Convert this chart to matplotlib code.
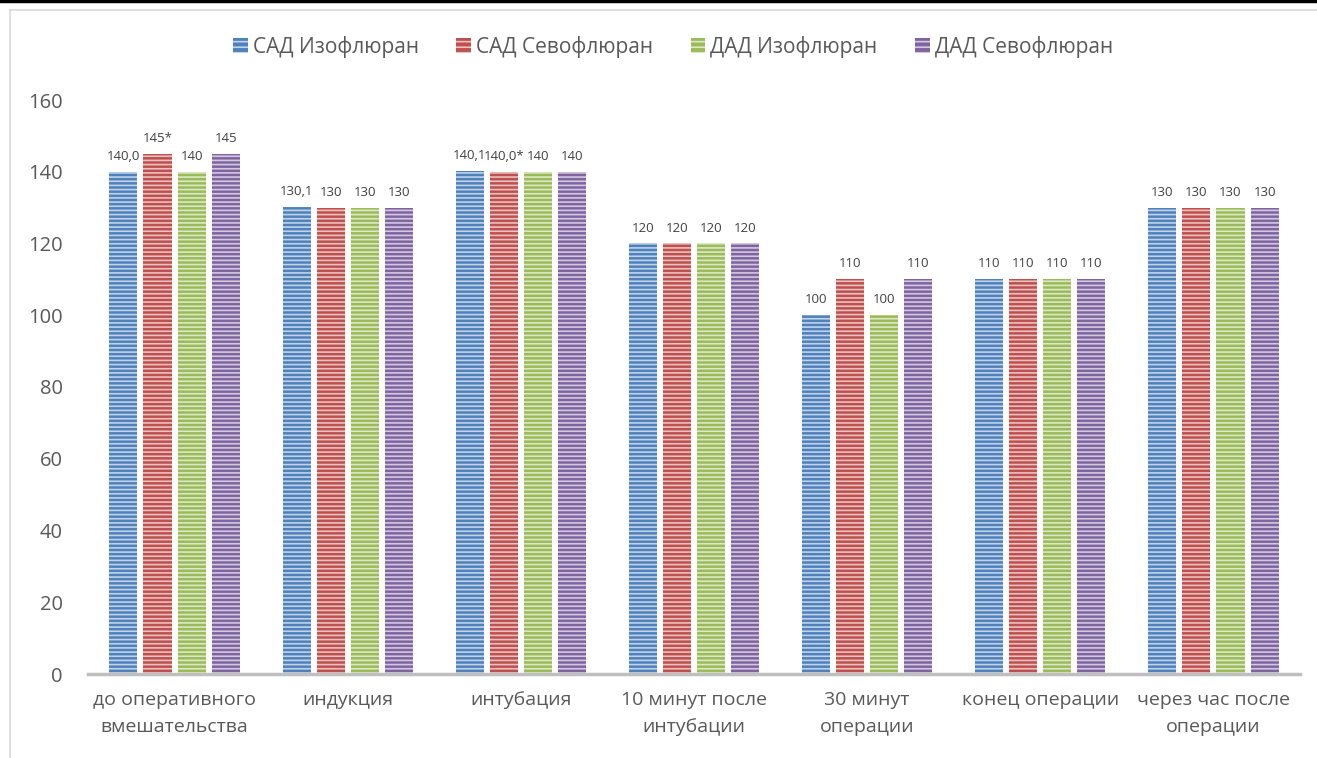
import matplotlib
matplotlib.use("Agg")
import matplotlib.pyplot as plt
import numpy as np
from matplotlib.patches import Rectangle
from matplotlib.lines import Line2D
from matplotlib.colors import to_rgb

categories = ["до оперативного\nвмешательства", "индукция", "интубация",
              "10 минут после\nинтубации", "30 минут\nоперации",
              "конец операции", "через час после\nоперации"]
series_names = ["САД Изофлюран", "САД Севофлюран", "ДАД Изофлюран", "ДАД Севофлюран"]
sad_iso = [140.0, 130.1, 140.1, 120, 100, 110, 130]
sad_sevo = [145, 130, 140.0, 120, 110, 110, 130]
dad_iso = [140, 130, 140, 120, 100, 110, 130]
dad_sevo = [145, 130, 140, 120, 110, 110, 130]
labels_sad_iso = ["140,0", "130,1", "140,1", "120", "100", "110", "130"]
labels_sad_sevo = ["145*", "130", "140,0*", "120", "110", "110", "130"]
labels_dad_iso = ["140", "130", "140", "120", "100", "110", "130"]
labels_dad_sevo = ["145", "130", "140", "120", "110", "110", "130"]
yticks = [0, 20, 40, 60, 80, 100, 120, 140, 160]

colors = ["#4F81BD", "#C0504D", "#9BBB59", "#8064A2"]


def tint(c, f=0.6):
    r, g, b = to_rgb(c)
    return (r + (1 - r) * f, g + (1 - g) * f, b + (1 - b) * f)


plt.rcParams['font.family'] = ['Open Sans', 'DejaVu Sans']
plt.rcParams['hatch.linewidth'] = 1.2

fig = plt.figure(figsize=(13.17, 7.58), dpi=100)
W, H = 1317, 758
ax = fig.add_axes([88 / W, 1 - 674 / H, (1300 - 88) / W, (674 - 100) / H])

x = np.arange(len(categories))
bw = 0.162
pitch = 0.197
data = [sad_iso, sad_sevo, dad_iso, dad_sevo]
labs = [labels_sad_iso, labels_sad_sevo, labels_dad_iso, labels_dad_sevo]
for i, (vals, lab, c, name) in enumerate(zip(data, labs, colors, series_names)):
    pos = x + (i - 1.5) * pitch
    ax.bar(pos, vals, width=bw, color=c, edgecolor=tint(c, 0.65), hatch="----",
           linewidth=0, label=name)
    for p, v, t in zip(pos, vals, lab):
        ax.text(p, v + 2.5, t, ha="center", va="bottom", fontsize=9.5, color="#404040")

ax.set_xlim(-0.5, len(categories) - 0.5)
ax.set_ylim(0, 160)
ax.set_yticks(yticks)
ax.set_yticklabels([str(t) for t in yticks], fontsize=14.5, color="#595959")
ax.set_xticks(x)
ax.set_xticklabels(categories, fontsize=14, color="#595959", linespacing=1.7, va="top")
ax.tick_params(axis="both", length=0)
ax.tick_params(axis="y", pad=18)
ax.tick_params(axis="x", pad=12)
for s in ["top", "right", "left"]:
    ax.spines[s].set_visible(False)
ax.spines["bottom"].set_color("#BFBFBF")
ax.spines["bottom"].set_linewidth(2.5)
ax.patch.set_alpha(0)

handles = [Rectangle((0, 0), 1, 1, facecolor=c, edgecolor=tint(c, 0.65), hatch="---", linewidth=0)
           for c in colors]
leg = fig.legend(handles, series_names, loc="center", bbox_to_anchor=(673 / W, 1 - 47 / H),
                 ncol=4, frameon=False, fontsize=15, handlelength=0.7, handleheight=0.7,
                 handletextpad=0.25, columnspacing=1.8)
for t in leg.get_texts():
    t.set_color("#595959")

# frame
fig.add_artist(Line2D([0, 1], [1 - 1 / H, 1 - 1 / H], transform=fig.transFigure, color="black", lw=2.5))
fig.add_artist(Line2D([10 / W, 1], [1 - 10 / H, 1 - 10 / H], transform=fig.transFigure, color="#D9D9D9", lw=1.2))
fig.add_artist(Line2D([10 / W, 10 / W], [0, 1 - 10 / H], transform=fig.transFigure, color="#D9D9D9", lw=1.2))

fig.savefig("out.png", dpi=100)
